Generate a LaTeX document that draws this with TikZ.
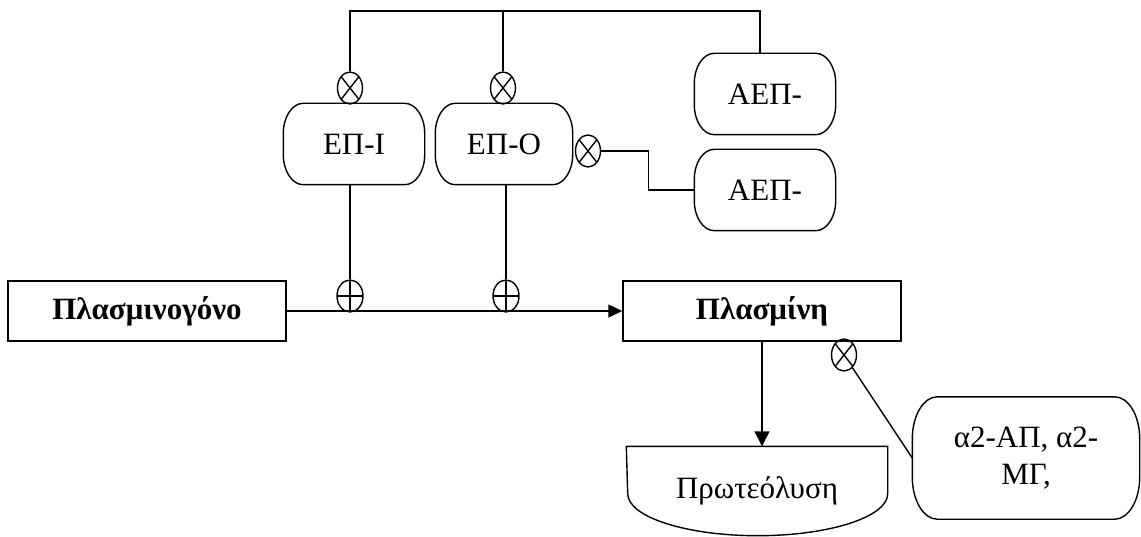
\documentclass[tikz,border=0pt]{standalone}
\usepackage{fontspec}
\setmainfont{Liberation Serif}
\usetikzlibrary{shapes.geometric,arrows.meta,calc}
\newcommand\drawcapsule[3]{%
  \draw ([xshift=#2]#1.north west) -- ([xshift=-#2]#1.north east)
    arc[start angle=90,end angle=0,x radius=#2,y radius=#3]
    -- ([yshift=#3]#1.south east)
    arc[start angle=0,end angle=-90,x radius=#2,y radius=#3]
    -- ([xshift=#2]#1.south west)
    arc[start angle=270,end angle=180,x radius=#2,y radius=#3]
    -- ([yshift=-#3]#1.north west)
    arc[start angle=180,end angle=90,x radius=#2,y radius=#3] -- cycle;}
\begin{document}
\begin{tikzpicture}[x=1pt,y=-1pt,line width=1.4pt,
  txt/.style={font=\fontsize{31}{37}\selectfont},
  rectbox/.style={draw,minimum width=278pt,minimum height=60pt,inner sep=0pt,font=\fontsize{31}{37}\selectfont\bfseries},
  capnode/.style={inner sep=0pt,align=center,font=\fontsize{31}{37}\selectfont},
  xnode/.style={draw,ellipse,minimum width=25pt,minimum height=32pt,inner sep=0pt,
    path picture={\draw (path picture bounding box.north west) -- (path picture bounding box.south east)
                       (path picture bounding box.north east) -- (path picture bounding box.south west);}},
  pnode/.style={draw,ellipse,minimum width=26pt,minimum height=32pt,inner sep=0pt,
    path picture={\draw (path picture bounding box.north) -- (path picture bounding box.south)
                       (path picture bounding box.west) -- (path picture bounding box.east);}},
  arr/.style={-{Triangle[length=14pt,width=13pt]}}
]
\useasboundingbox (0,0) rectangle (1141,537);

% boxes
\node[rectbox] (plg) at (147,311) {Πλασμινογόνο};
\node[rectbox] (pl) at (762,311) {Πλασμίνη};
\node[capnode,minimum width=140pt,minimum height=80pt] (ep1) at (354,144) {ΕΠ-Ι};
\node[capnode,minimum width=136pt,minimum height=80pt] (ep2) at (504,144) {ΕΠ-Ο};
\node[capnode,minimum width=140pt,minimum height=80pt] (aep1) at (765,94) {ΑΕΠ-};
\node[capnode,minimum width=140pt,minimum height=80pt] (aep2) at (765,190) {ΑΕΠ-};
\node[capnode,minimum width=226pt,minimum height=121pt] (alpha) at (1026,458) {α2-ΑΠ, α2-\\ΜΓ,};
\node[capnode,minimum width=260pt,minimum height=88pt] (prot) at (757,491) {Πρωτεόλυση};

\drawcapsule{ep1}{20pt}{30pt}
\drawcapsule{ep2}{20pt}{30pt}
\drawcapsule{aep1}{20pt}{30pt}
\drawcapsule{aep2}{20pt}{30pt}
\drawcapsule{alpha}{25pt}{42pt}
\draw (prot.north west) -- (prot.north east) -- ([yshift=42pt]prot.south east)
  arc[start angle=0,end angle=-180,x radius=130pt,y radius=42pt] -- cycle;

% markers
\node[xnode] (x1) at (350,88) {};
\node[xnode] (x2) at (503,88) {};
\node[xnode] (xr) at (588,151) {};
\node[xnode] (xp) at (844,355) {};
\node[pnode] (p1) at (350,296) {};
\node[pnode] (p2) at (506,296) {};

% connectors
\coordinate (tl) at (350,11);
\coordinate (tr) at (760,11);
\draw (x1.north) -- (tl) -- (tr) -- (tr |- aep1.north);
\draw (x2.north) -- (x2.north |- tl);
\draw (xr.east) -- ++(47,0) |- (aep2.west);
\draw (p1.north) -- (p1.north |- ep1.south);
\draw (p2.north) -- (p2.north |- ep2.south);
\draw[arr] (plg.east) -- (pl.west);
\draw[-{Triangle[length=15pt,width=15pt]}] (pl.south) -- (pl.south |- prot.north);
\draw (xp) -- (alpha.west);
\end{tikzpicture}
\end{document}
